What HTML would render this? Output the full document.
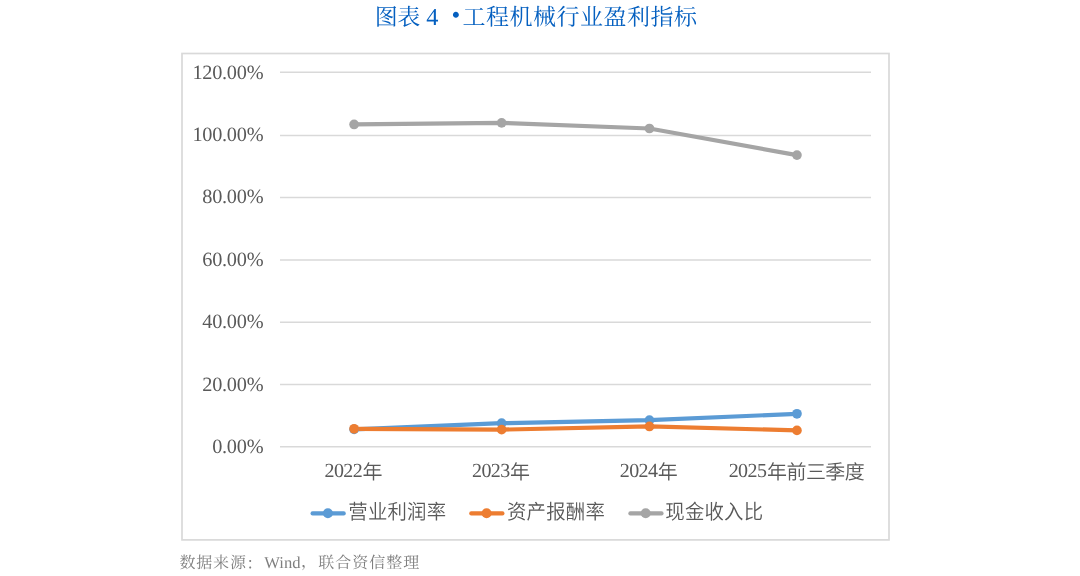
<!DOCTYPE html>
<html lang="zh-CN">
<head>
<meta charset="utf-8">
<title>图表 4 工程机械行业盈利指标</title>
<style>
  html, body { margin: 0; padding: 0; background: #ffffff; }
  body { width: 1080px; height: 576px; overflow: hidden; position: relative; }
  svg { position: absolute; left: 0; top: 0; display: block; }
  text { text-rendering: geometricPrecision; }
  .title { font-family: "Liberation Serif", "Noto Serif CJK SC", serif; font-size: 23.0px; fill: #0560c0; font-weight: 400; }
  .title .four { font-size: 24.3px; }
  .title .dot { font-size: 25.0px; }
  .ax { font-family: "Liberation Serif", "Noto Sans CJK SC", sans-serif; font-size: 20.0px; fill: #595959; font-weight: 350; }
  .yl { letter-spacing: -0.25px; font-size: 20.3px; }
  .lg { font-size: 19.4px; }
  .src { font-family: "Liberation Serif", "Noto Serif CJK SC", serif; font-size: 16px; fill: #7f7f7f; font-weight: 400; }
  .src .lat { font-size: 16.6px; }
  .grid line { stroke: #d9d9d9; stroke-width: 1.5; }
</style>
</head>
<body>
<svg width="1080" height="576" viewBox="0 0 1080 576">
  <rect x="0" y="0" width="1080" height="576" fill="#ffffff"/>

  <!-- title -->
  <text class="title" y="24.8"><tspan x="374.8 397.3">图表</tspan> <tspan class="four" x="426.2" y="24.7">4</tspan> <tspan class="dot" x="451.6" y="23.45">•</tspan><tspan x="462.5 486 509.5 533 556.5 580 603.5 627 650.5 674" y="24.8">工程机械行业盈利指标</tspan></text>

  <!-- chart frame -->
  <rect x="182" y="53.5" width="707" height="486.4" fill="#ffffff" stroke="#d9d9d9" stroke-width="1.7"/>

  <!-- gridlines -->
  <g class="grid">
    <line x1="280" y1="72.3" x2="871" y2="72.3"/>
    <line x1="280" y1="135.4" x2="871" y2="135.4"/>
    <line x1="280" y1="197.6" x2="871" y2="197.6"/>
    <line x1="280" y1="260.0" x2="871" y2="260.0"/>
    <line x1="280" y1="322.2" x2="871" y2="322.2"/>
    <line x1="280" y1="384.5" x2="871" y2="384.5"/>
    <line x1="280" y1="446.75" x2="871" y2="446.75"/>
  </g>

  <!-- y axis labels -->
  <g class="ax yl" text-anchor="end">
    <text x="263.3" y="78.6">120.00%</text>
    <text x="263.3" y="141.0">100.00%</text>
    <text x="263.3" y="203.4">80.00%</text>
    <text x="263.3" y="265.9">60.00%</text>
    <text x="263.3" y="328.3">40.00%</text>
    <text x="263.3" y="390.7">20.00%</text>
    <text x="263.3" y="453.1">0.00%</text>
  </g>

  <!-- x axis labels -->
  <g class="ax xl">
    <text x="324.5 333.9 343.3 352.7 362.6" y="477.1 477.1 477.1 477.1 479.4">2022年</text>
    <text x="472 481.4 490.8 500.2 510.1" y="477.1 477.1 477.1 477.1 479.4">2023年</text>
    <text x="619.8 629.2 638.6 648 657.8" y="477.1 477.1 477.1 477.1 479.4">2024年</text>
    <text x="728.7 738.1 747.5 756.9 767 786.45 805.9 825.35 844.8" y="477.1 477.1 477.1 477.1 479.4 479.4 479.4 479.4 479.4">2025年前三季度</text>
  </g>

  <!-- series -->
  <g fill="none" stroke-width="4.2" stroke-linecap="round" stroke-linejoin="round">
    <polyline stroke="#5b9bd5" points="354.1,429.4 501.65,423.2 649.45,420.2 796.95,413.8"/>
    <polyline stroke="#ed7d31" points="354.1,428.8 501.65,429.65 649.45,426.45 796.95,430.4"/>
    <polyline stroke="#a5a5a5" points="354.1,124.45 501.65,122.85 649.45,128.5 796.95,155.1"/>
  </g>
  <g fill="#5b9bd5"><circle cx="354.1" cy="429.4" r="4.85"/><circle cx="501.65" cy="423.2" r="4.85"/><circle cx="649.45" cy="420.2" r="4.85"/><circle cx="796.95" cy="413.8" r="4.85"/></g>
  <g fill="#ed7d31"><circle cx="354.1" cy="428.8" r="4.85"/><circle cx="501.65" cy="429.65" r="4.85"/><circle cx="649.45" cy="426.45" r="4.85"/><circle cx="796.95" cy="430.4" r="4.85"/></g>
  <g fill="#a5a5a5"><circle cx="354.1" cy="124.45" r="4.85"/><circle cx="501.65" cy="122.85" r="4.85"/><circle cx="649.45" cy="128.5" r="4.85"/><circle cx="796.95" cy="155.1" r="4.85"/></g>

  <!-- legend -->
  <g stroke-width="4.1" stroke-linecap="round">
    <line x1="312.55" y1="513.4" x2="343.75" y2="513.4" stroke="#5b9bd5"/>
    <circle cx="327.9" cy="513.25" r="5" fill="#5b9bd5"/>
    <line x1="471.25" y1="513.4" x2="502.45" y2="513.4" stroke="#ed7d31"/>
    <circle cx="486.6" cy="513.25" r="5" fill="#ed7d31"/>
    <line x1="630.35" y1="513.4" x2="661.55" y2="513.4" stroke="#a5a5a5"/>
    <circle cx="645.7" cy="513.25" r="5" fill="#a5a5a5"/>
  </g>
  <g class="ax lg" transform="translate(0,519.2) scale(1,1.06)">
    <text x="348.3 367.9 387.5 407.1 426.7" y="0">营业利润率</text>
    <text x="507 526.6 546.2 565.8 585.4" y="0">资产报酬率</text>
    <text x="665.3 684.9 704.5 724.1 743.7" y="0">现金收入比</text>
  </g>

  <!-- source -->
  <text class="src" y="568.4"><tspan x="179.4 196.25 213.1 229.95 246.5" y="568.4 568.4 568.4 568.4 569.1">数据来源：</tspan><tspan class="lat" x="264.3" y="568.4">Wind</tspan><tspan x="300.9 318.2 335.2 352.2 369.2 386.2 403.2" y="567.2 568.4 568.4 568.4 568.4 568.4 568.4">，联合资信整理</tspan></text>
</svg>
</body>
</html>
